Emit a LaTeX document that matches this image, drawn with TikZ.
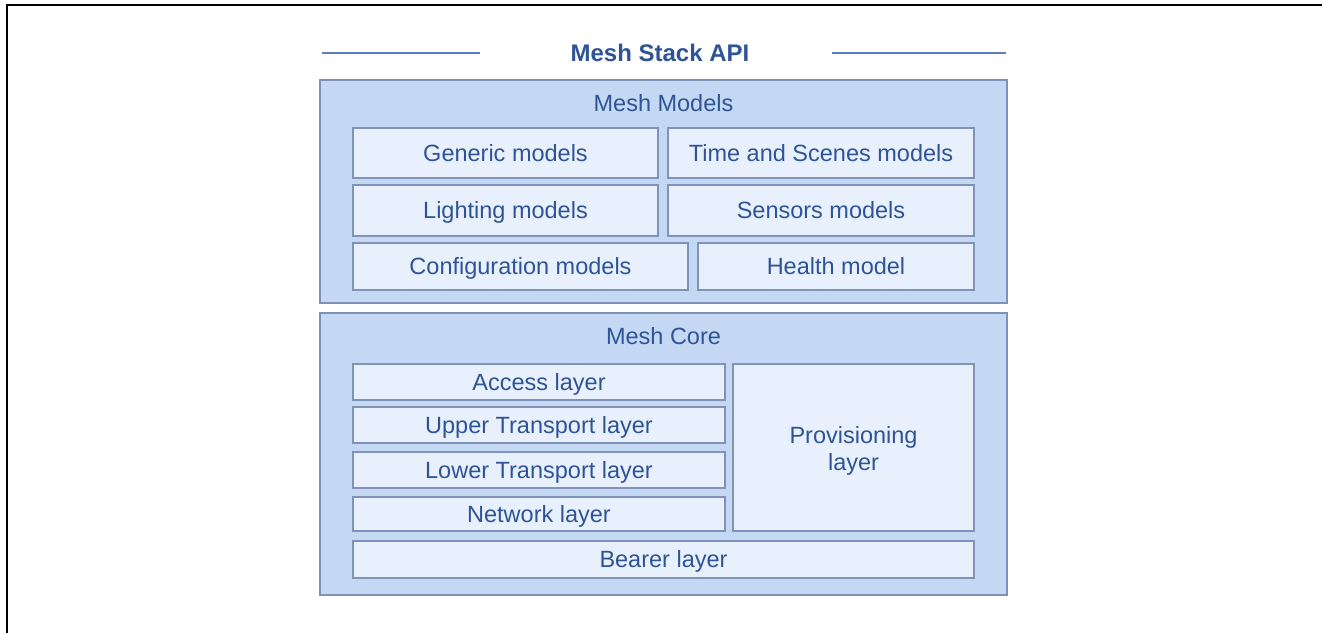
\documentclass[tikz,border=0pt]{standalone}
\usepackage{fontspec}
\setmainfont{Liberation Sans}
\usepackage{xcolor}
\usetikzlibrary{positioning}

\definecolor{meshtext}{HTML}{2F5496}
\definecolor{meshline}{HTML}{7F93B8}
\definecolor{meshouter}{HTML}{C5D8F3}
\definecolor{meshinner}{HTML}{E8F0FD}
\definecolor{meshrule}{HTML}{5B7EC0}

\tikzset{
  groupbox/.style={draw=meshline, line width=1.5pt, fill=meshouter, inner sep=0pt},
  layerbox/.style={draw=meshline, line width=1.3pt, fill=meshinner, inner sep=0pt,
    text=meshtext, font=\fontsize{23.5}{27}\selectfont, align=center,
    text height=16.8pt, text depth=0pt},
  tallbox/.style={draw=meshline, line width=1.3pt, fill=meshinner, inner sep=0pt,
    text=meshtext, font=\fontsize{23.5}{27}\selectfont, align=center},
  grouplabel/.style={text=meshtext, font=\fontsize{23.5}{27}\selectfont}
}

\begin{document}
\begin{tikzpicture}[x=1pt,y=-1pt]
                \useasboundingbox (0,0) rectangle (1322,633);
                \draw[line width=2pt] (6.8,633) -- (6.8,5) -- (1322,5);

                \node[text=meshtext, font=\bfseries\fontsize{24}{28}\selectfont] (api) at (660,53) {Mesh Stack API};
                \draw[meshrule, line width=1.2pt] (322,53) -- (480,53);
                \draw[meshrule, line width=1.2pt] (832,53) -- (1006,53);

                \node[groupbox, minimum width=687pt, minimum height=223pt] (models) at (663.5,191.5) {};
                \node[grouplabel] (modelstitle) at (663.5,103) {Mesh Models};
                \node[layerbox, minimum width=305pt, minimum height=50pt] (generic) at (505.5,153) {Generic models};
                \node[layerbox, minimum width=306pt, minimum height=50pt] (scenes) at (821,153) {Time and Scenes models};
                \node[layerbox, minimum width=305pt, minimum height=51pt] (lighting) at (505.5,210.5) {Lighting models};
                \node[layerbox, minimum width=306pt, minimum height=51pt] (sensors) at (821,210.5) {Sensors models};
                \node[layerbox, minimum width=335pt, minimum height=47pt] (config) at (520.5,266.5) {Configuration models};
                \node[layerbox, minimum width=276pt, minimum height=47pt] (health) at (836,266.5) {Health model};

                \node[groupbox, minimum width=687pt, minimum height=282pt] (core) at (663.5,454) {};
                \node[grouplabel] (coretitle) at (663.5,336) {Mesh Core};
                \node[layerbox, minimum width=372pt, minimum height=36pt] (access) at (539,382) {Access layer};
                \node[layerbox, minimum width=372pt, minimum height=36pt] (upper) at (539,425) {Upper Transport layer};
                \node[layerbox, minimum width=372pt, minimum height=36pt] (lower) at (539,470) {Lower Transport layer};
                \node[layerbox, minimum width=372pt, minimum height=34pt] (network) at (539,514) {Network layer};
                \node[tallbox, minimum width=241pt, minimum height=167pt] (prov) at (853.5,447.5) {};
                \node[text=meshtext, font=\fontsize{23.5}{27}\selectfont, align=center] (provtext) at (853.5,451) {Provisioning\\layer};
                \node[layerbox, minimum width=621pt, minimum height=37pt] (bearer) at (663.5,559.5) {Bearer layer};
            \end{tikzpicture}
\end{document}
